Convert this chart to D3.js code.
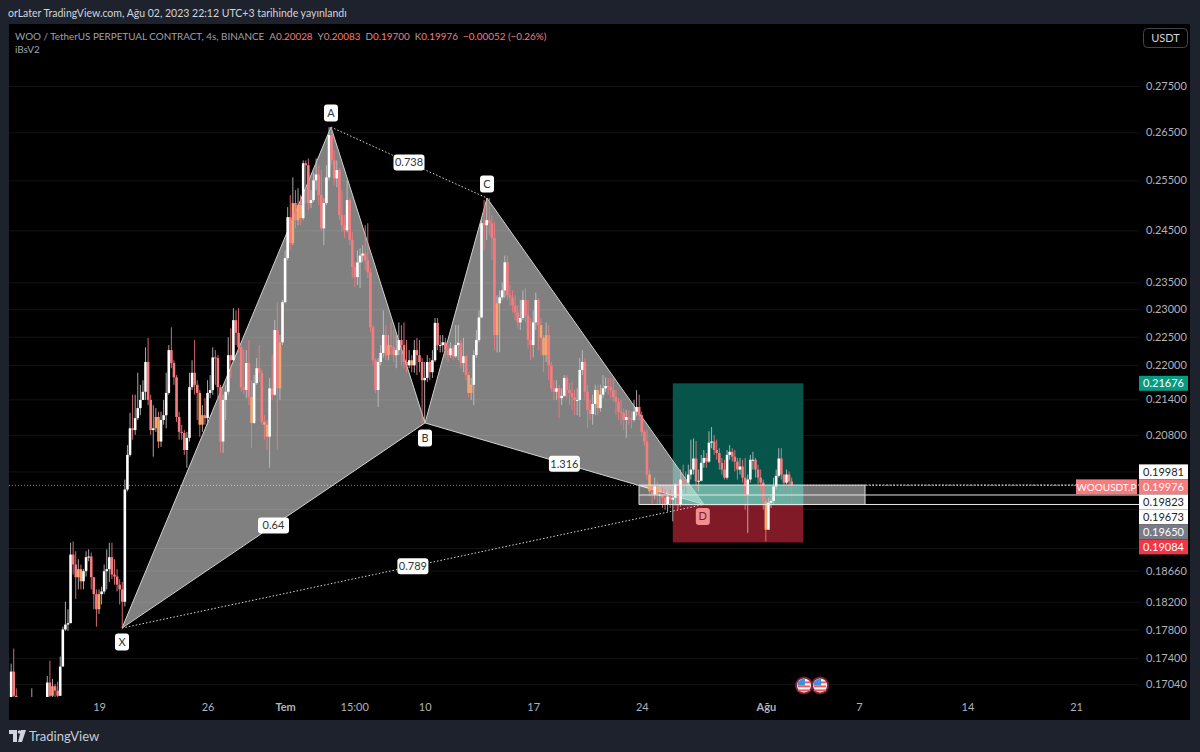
<!DOCTYPE html>
<html>
<head>
<meta charset="utf-8">
<script src="https://cdnjs.cloudflare.com/ajax/libs/d3/7.8.5/d3.min.js"></script>
<style>
html,body{margin:0;padding:0;background:#1e222d;}
svg{display:block;}
text{font-family:Lato,"Noto Sans",sans-serif;}
</style>
</head>
<body>
<svg id="c" width="1200" height="752"></svg>
<script>
// ---------- data ----------
const firstBarOffset = -35;      // first 4h bar, counted from 19 June
const firstOpen = 0.1668;
const closes = [
.1678,.1721,.1688,.1684,.1668,.1668,.1668,.1668,.1668,.1668,
.1668,.1668,.1668,.1668,.1668,.1706,.1688,.1701,.1695,.1688,
.1728,.1780,.1787,.1789,.1890,.1875,.1856,.1868,.1850,.1865,
.1886,.1887,.1856,.1831,.1809,.1831,.1835,.1865,.1868,.1886,
.1860,.1857,.1845,.1838,.1820,.1991,.2047,.2091,.2088,.2108,
.2125,.2139,.2153,.2205,.2139,.2088,.2091,.2110,.2069,.2105,
.2113,.2151,.2226,.2203,.2178,.2110,.2085,.2083,.2055,.2075,
.2161,.2186,.2165,.2151,.2097,.2113,.2108,.2151,.2156,.2213,
.2212,.2161,.2069,.2139,.2153,.2217,.2208,.2280,.2257,.2231,
.2161,.2156,.2203,.2144,.2100,.2168,.2194,.2186,.2102,.2097,
.2077,.2159,.2148,.2262,.2159,.2240,.2313,.2396,.2476,.2425,
.2504,.2470,.2500,.2474,.2585,.2581,.2504,.2510,.2550,.2562,
.2520,.2454,.2504,.2556,.2644,.2591,.2554,.2571,.2480,.2460,
.2450,.2510,.2431,.2379,.2360,.2388,.2401,.2405,.2392,.2369,
.2267,.2208,.2156,.2205,.2221,.2253,.2217,.2235,.2231,.2217,
.2226,.2244,.2235,.2205,.2199,.2208,.2199,.2226,.2217,.2205,
.2173,.2177,.2205,.2187,.2208,.2275,.2235,.2235,.2240,.2226,
.2217,.2229,.2215,.2235,.2239,.2203,.2215,.2182,.2151,.2165,
.2217,.2244,.2285,.2464,.2460,.2470,.2464,.2435,.2253,.2311,
.2322,.2335,.2388,.2326,.2322,.2307,.2294,.2276,.2284,.2317,
.2289,.2244,.2235,.2276,.2317,.2271,.2248,.2217,.2253,.2199,
.2159,.2153,.2159,.2142,.2146,.2177,.2156,.2151,.2144,.2139,
.2139,.2191,.2205,.2153,.2122,.2115,.2132,.2156,.2125,.2148,
.2159,.2163,.2161,.2156,.2144,.2136,.2119,.2117,.2105,.2110,
.2108,.2105,.2119,.2127,.2113,.2085,.2069,.2015,.1988,.1983,
.1996,.1983,.1983,.1978,.1967,.1980,.1975,.1978,.1999,.1967,
.2007,.2004,.2002,.2015,.2023,.2041,.2004,.2005,.2034,.2042,
.2036,.2067,.2069,.2055,.2050,.2034,.2023,.2010,.2047,.2052,
.2044,.2036,.2023,.2028,.2010,.1983,.2007,.2039,.2039,.2023,
.2010,.2002,.1972,.1928,.1970,.1973,.1996,.2013,.2041,.2015,
.2002,.2015,.2004,.19976];
const highs = [
.1740,.1732,.1753,.1698,.1678,.1678,.1678,.1678,.1678,.1698,
.1678,.1678,.1678,.1678,.1678,.1715,.1736,.1711,.1704,.1707,
.1742,.1784,.1820,.1809,.1908,.1910,.1895,.1883,.1875,.1868,
.1895,.1898,.1893,.1853,.1838,.1838,.1842,.1875,.1898,.1908,
.1908,.1883,.1868,.1853,.1849,.2007,.2063,.2117,.2148,.2148,
.2186,.2165,.2173,.2231,.2248,.2148,.2130,.2125,.2119,.2119,
.2139,.2186,.2235,.2267,.2208,.2182,.2119,.2097,.2088,.2085,
.2186,.2208,.2244,.2173,.2156,.2130,.2142,.2173,.2182,.2231,
.2226,.2217,.2165,.2148,.2165,.2249,.2265,.2302,.2298,.2302,
.2235,.2226,.2226,.2244,.2173,.2182,.2212,.2235,.2191,.2113,
.2105,.2177,.2217,.2280,.2313,.2253,.2317,.2411,.2496,.2520,
.2556,.2530,.2534,.2520,.2591,.2591,.2595,.2530,.2566,.2595,
.2581,.2571,.2514,.2581,.2661,.2661,.2612,.2591,.2575,.2530,
.2480,.2550,.2514,.2446,.2388,.2411,.2415,.2421,.2460,.2464,
.2377,.2271,.2212,.2212,.2235,.2298,.2271,.2253,.2276,.2262,
.2253,.2276,.2271,.2276,.2244,.2226,.2217,.2244,.2248,.2244,
.2212,.2205,.2217,.2212,.2226,.2284,.2284,.2253,.2253,.2248,
.2235,.2240,.2235,.2271,.2271,.2244,.2248,.2217,.2187,.2177,
.2226,.2262,.2298,.2474,.2510,.2514,.2514,.2480,.2466,.2326,
.2335,.2350,.2401,.2401,.2345,.2335,.2326,.2307,.2317,.2335,
.2339,.2317,.2284,.2298,.2331,.2321,.2284,.2253,.2276,.2271,
.2205,.2173,.2173,.2165,.2159,.2182,.2182,.2168,.2170,.2156,
.2159,.2212,.2226,.2212,.2165,.2139,.2148,.2165,.2165,.2165,
.2182,.2178,.2177,.2177,.2177,.2156,.2142,.2139,.2125,.2122,
.2122,.2119,.2139,.2156,.2148,.2119,.2088,.2088,.2023,.1999,
.2010,.2004,.1999,.1994,.1991,.1991,.1991,.1994,.2001,.2007,
.2023,.2031,.2020,.2031,.2072,.2074,.2070,.2023,.2047,.2055,
.2050,.2086,.2093,.2080,.2072,.2058,.2042,.2039,.2055,.2063,
.2058,.2055,.2042,.2042,.2039,.2042,.2015,.2047,.2052,.2042,
.2031,.2023,.2007,.1978,.1978,.1983,.2010,.2023,.2058,.2058,
.2015,.2023,.2020,.2010];
const lows = [
.1656,.1678,.1671,.1668,.1650,.1650,.1650,.1650,.1650,.1650,
.1650,.1650,.1650,.1650,.1650,.1678,.1678,.1684,.1684,.1678,
.1688,.1728,.1778,.1778,.1789,.1860,.1824,.1838,.1838,.1838,
.1857,.1880,.1838,.1809,.1784,.1802,.1816,.1831,.1838,.1849,
.1853,.1845,.1835,.1816,.1784,.1813,.1988,.2044,.2072,.2080,
.2105,.2113,.2139,.2139,.2130,.2080,.2044,.2085,.2058,.2060,
.2097,.2091,.2148,.2194,.2165,.2102,.2072,.2072,.2047,.2026,
.2069,.2156,.2148,.2105,.2077,.2085,.2097,.2097,.2142,.2148,
.2165,.2139,.2050,.2050,.2105,.2148,.2177,.2205,.2235,.2222,
.2153,.2148,.2142,.2130,.2058,.2098,.2165,.2170,.2097,.2072,
.2055,.2026,.2139,.2146,.2055,.2139,.2235,.2311,.2392,.2411,
.2421,.2454,.2460,.2460,.2470,.2504,.2490,.2494,.2506,.2530,
.2500,.2450,.2421,.2500,.2550,.2581,.2540,.2536,.2470,.2446,
.2435,.2446,.2421,.2358,.2341,.2345,.2339,.2388,.2373,.2358,
.2258,.2199,.2151,.2127,.2199,.2213,.2208,.2208,.2217,.2205,
.2194,.2217,.2199,.2194,.2187,.2194,.2187,.2186,.2182,.2187,
.2100,.2100,.2170,.2173,.2177,.2205,.2226,.2222,.2222,.2212,
.2205,.2212,.2208,.2212,.2208,.2194,.2187,.2173,.2144,.2139,
.2130,.2212,.2240,.2284,.2411,.2431,.2440,.2392,.2226,.2222,
.2222,.2317,.2321,.2317,.2307,.2294,.2280,.2265,.2262,.2280,
.2276,.2229,.2208,.2213,.2262,.2226,.2217,.2187,.2205,.2173,
.2153,.2139,.2139,.2108,.2130,.2144,.2142,.2130,.2122,.2113,
.2113,.2110,.2182,.2139,.2091,.2105,.2097,.2113,.2113,.2119,
.2142,.2153,.2148,.2142,.2136,.2113,.2105,.2097,.2088,.2075,
.2097,.2091,.2102,.2111,.2105,.2078,.2062,.2007,.1980,.1967,
.1975,.1967,.1967,.1962,.1959,.1956,.1962,.1941,.1967,.1959,
.1964,.1991,.1985,.1991,.2007,.2015,.1991,.1988,.2004,.2026,
.2026,.2034,.2058,.2047,.2039,.2023,.2015,.2007,.2007,.2039,
.2036,.2020,.2007,.2015,.2002,.1959,.1923,.2002,.2023,.2010,
.1999,.1991,.1959,.1910,.1959,.1962,.1967,.1991,.2010,.2007,
.1991,.1999,.1991,.1970];
// bars the iBsV2 script tints orange (bar number counted from 19 June)
const tintedBars = [-18,-8,-7,0,22,23,39,40,59,64,65,70,75,77,78,112,121,143,144,154,171,172,173,193,213,216,258];

const priceTicks = [0.275,0.265,0.255,0.245,0.235,0.23,0.225,0.22,0.214,0.208,0.202,0.196,0.19,0.1866,0.182,0.178,0.174,0.1704];
const hiddenPriceTicks = [0.202,0.196,0.19];
const timeTickDates = ["2023-06-19T00:00","2023-06-26T00:00","2023-07-01T00:00","2023-07-05T11:00","2023-07-10T00:00","2023-07-17T00:00","2023-07-24T00:00","2023-08-01T00:00","2023-08-07T00:00","2023-08-14T00:00","2023-08-21T00:00"];
const timeTickLabels = ["19","26","Tem","15:00","10","17","24","Ağu","7","14","21"];

const patternNames = ["X","A","B","C","D"];
const patternDates = ["2023-06-20T11:35","2023-07-03T23:00","2023-07-10T00:30","2023-07-14T00:30","2023-07-28T00:00"];
const patternPrices = [0.1782,0.2661,0.2100,0.2514,0.19673];
const ratioLegs = [["A","C","0.738"],["X","B","0.64"],["B","D","1.316"],["X","D","0.789"]];

const positionStart = "2023-07-26T00:00", positionEnd = "2023-08-03T10:00";
const takeProfit = 0.21676, entry = 0.1965, stopLoss = 0.19084;
const zoneStart = "2023-07-23T19:40", zoneEnd = "2023-08-07T09:30";
const zonePrices = [0.19981,0.19823,0.19673];
const lastPrice = 0.19976;
const stackedTags = ["0.19981","0.19976","0.19823","0.19673","0.19650","0.19084"];
const eventDates = ["2023-08-03T11:00","2023-08-04T12:00"];
const eventPrice = 0.1702;

const titleText = "orLater TradingView.com, Ağu 02, 2023 22:12 UTC+3 tarihinde yayınlandı";
const symbolText = "WOO / TetherUS PERPETUAL CONTRACT, 4s, BINANCE";
const ohlcKeys = ["A","Y","D","K"];
const ohlcValues = ["0.20028","0.20083","0.19700","0.19976"];
const changeText = "−0.00052 (−0.26%)";

// ---------- scales ----------
const C = {bg:"#1e222d",up:"#ffffff",down:"#f77c80",tint:"#f7a56f",axis:"#b0b3bc",grid:"#111317"};
const d = s => new Date(s);
const svg = d3.select("#c");
const panel = {x:9,y:24,r:1190,b:720,plotB:697,axisX:1139};
const x = d3.scaleTime().domain([d("2023-06-19T00:00"),d("2023-08-21T00:00")]).range([99,1076]);
const y = d3.scaleLog().domain([0.275,0.1704]).range([86,684]);
const barTime = k => d3.timeHour.offset(d("2023-06-19T00:00"),k*4);

svg.append("rect").attr("width",1200).attr("height",752).attr("fill",C.bg);
svg.append("rect").attr("x",panel.x).attr("y",panel.y).attr("width",panel.r-panel.x).attr("height",panel.b-panel.y).attr("fill","#000");
svg.append("clipPath").attr("id","plot").append("rect").attr("x",panel.x).attr("y",panel.y).attr("width",panel.axisX-panel.x).attr("height",panel.plotB-panel.y);

// axes with grid
const yGrid = svg.append("g").attr("transform",`translate(${panel.axisX},0)`)
  .call(d3.axisLeft(y).tickValues(priceTicks).tickSize(panel.axisX-panel.x).tickFormat(""));
yGrid.select(".domain").remove();
yGrid.selectAll("line").attr("stroke",C.grid);

const yAxis = svg.append("g").attr("transform",`translate(1146,0)`)
  .call(d3.axisRight(y).tickValues(priceTicks.filter(p=>!hiddenPriceTicks.includes(p))).tickSize(0).tickPadding(0).tickFormat(d3.format(".5f")));
yAxis.select(".domain").remove();
yAxis.selectAll("text").attr("fill",C.axis).style("font-size","11px");

const xAxis = svg.append("g").attr("transform",`translate(0,700)`)
  .call(d3.axisBottom(x).tickValues(timeTickDates.map(d)).tickSize(0).tickPadding(3).tickFormat((t,i)=>timeTickLabels[i]));
xAxis.select(".domain").remove();
xAxis.selectAll("text").attr("fill",C.axis).style("font-size","11px")
  .style("font-weight",(t,i)=>/[A-Za-z]/.test(timeTickLabels[i])?"700":"400");

const plot = svg.append("g").attr("clip-path","url(#plot)");

// last price dotted line
plot.append("line").attr("x1",panel.x).attr("x2",1076).attr("y1",y(lastPrice)).attr("y2",y(lastPrice))
  .attr("stroke",C.down).attr("stroke-dasharray","1 2").attr("opacity",.8);

// position tool
const px0=x(d(positionStart)), px1=x(d(positionEnd));
plot.append("rect").attr("x",px0).attr("width",px1-px0).attr("y",y(takeProfit)).attr("height",y(entry)-y(takeProfit)).attr("fill","#06544a");
plot.append("rect").attr("x",px0).attr("width",px1-px0).attr("y",y(entry)).attr("height",y(stopLoss)-y(entry)).attr("fill","#7f1a26");

// harmonic pattern
const P = {}; patternNames.forEach((n,i)=>P[n]=[x(d(patternDates[i])),y(patternPrices[i])]);
const tri = (a,b,c)=>`M${P[a]}L${P[b]}L${P[c]}Z`;
plot.append("path").attr("d",tri("X","A","B")).attr("fill","#fff").attr("fill-opacity",.5);
plot.append("path").attr("d",tri("B","C","D")).attr("fill","#fff").attr("fill-opacity",.5);
plot.append("path").attr("d",`M${P.X}L${P.A}L${P.B}L${P.C}L${P.D}L${P.B}L${P.X}`).attr("fill","none").attr("stroke","#d0d0d0").attr("stroke-width",1);
ratioLegs.forEach(([a,b])=>{
  if(a==="A"||(a==="X"&&b==="D"))
    plot.append("line").attr("x1",P[a][0]).attr("y1",P[a][1]).attr("x2",P[b][0]).attr("y2",P[b][1]).attr("stroke","#d8d8d8").attr("stroke-dasharray","1.5 2");
});

// zone band, tinted where it crosses the position tool
const z0=x(d(zoneStart)), z1=x(d(zoneEnd));
plot.append("rect").attr("x",z0).attr("width",z1-z0).attr("y",y(zonePrices[0])).attr("height",y(zonePrices[2])-y(zonePrices[0])).attr("fill","#fff").attr("fill-opacity",.46);
plot.append("rect").attr("x",px0).attr("width",px1-px0).attr("y",y(zonePrices[0])).attr("height",y(entry)-y(zonePrices[0])).attr("fill","#4ad2ae").attr("fill-opacity",.3);

// candles
const bars = closes.map((c,i)=>{
  const k=firstBarOffset+i, o=i?closes[i-1]:firstOpen;
  return {k,o,c,h:Math.max(highs[i],o,c),l:Math.min(lows[i],o,c),t:barTime(k)};
});
const color = b => tintedBars.includes(b.k)?C.tint:(b.c>=b.o?C.up:C.down);
plot.append("g").selectAll("line").data(bars).join("line")
  .attr("x1",b=>x(b.t)).attr("x2",b=>x(b.t)).attr("y1",b=>y(b.h)).attr("y2",b=>y(b.l))
  .attr("stroke",b=>b.c>=b.o?"#c4c4c4":C.down).attr("stroke-width",1).attr("opacity",.85);
plot.append("g").selectAll("rect").data(bars).join("rect")
  .attr("x",b=>x(b.t)-1.3).attr("width",2.6)
  .attr("y",b=>y(Math.max(b.o,b.c))).attr("height",b=>Math.max(1,y(Math.min(b.o,b.c))-y(Math.max(b.o,b.c))))
  .attr("fill",color);

// zone lines (over the candles); the top one turns dotted past the band
zonePrices.forEach((p,i)=>{
  plot.append("line").attr("x1",z0).attr("x2",i?panel.axisX:z1).attr("y1",y(p)).attr("y2",y(p)).attr("stroke","#e8e8e8").attr("stroke-width",1);
});
plot.append("line").attr("x1",z1).attr("x2",panel.axisX).attr("y1",y(zonePrices[0])).attr("y2",y(zonePrices[0])).attr("stroke","#f0f0f0").attr("stroke-dasharray","2 1.5");
plot.append("line").attr("x1",z0).attr("x2",z0).attr("y1",y(zonePrices[0])).attr("y2",y(zonePrices[2])).attr("stroke","#d8d8d8");
plot.append("line").attr("x1",z1).attr("x2",z1).attr("y1",y(zonePrices[0])).attr("y2",y(zonePrices[2])).attr("stroke","#d8d8d8");

// pattern labels
const box=(cx,cy,w,h,txt,fill,ink)=>{
  svg.append("rect").attr("x",cx-w/2).attr("y",cy-h/2).attr("width",w).attr("height",h).attr("rx",3).attr("fill",fill);
  svg.append("text").attr("x",cx).attr("y",cy+3.8).attr("text-anchor","middle").attr("fill",ink).style("font-size","11px").text(txt);
};
const pointOffset={X:14,A:-14,B:15,C:-14,D:12};
patternNames.forEach(n=>{
  const isD=n==="D";
  box(P[n][0]-(isD?1:0),P[n][1]+pointOffset[n],14,17,n,isD?"#f28e90":"#fff",isD?"#7f1a26":"#333");
});
ratioLegs.forEach(([a,b,t])=>box((P[a][0]+P[b][0])/2,(P[a][1]+P[b][1])/2,31,16,t,"#fff","#333"));

// economic events
eventDates.forEach(s=>{
  const g=svg.append("g").attr("transform",`translate(${x(d(s))},${y(eventPrice)})`);
  g.append("circle").attr("r",9).attr("fill","#7d1f33");
  g.append("circle").attr("r",7).attr("fill","#f4f4f4");
  [-3,1,5].forEach(v=>g.append("rect").attr("x",-6).attr("y",v-1).attr("width",12).attr("height",1.8).attr("fill","#ea5b5f"));
  g.append("path").attr("d","M-6.6,0 A6.8,6.8 0 0 1 0,-6.8 L1,-6.8 L1,0Z").attr("fill","#3f8fe0");
});

// price tags
const tag=(cy,t,fill,ink,x0=panel.axisX,w=49,size=11)=>{
  svg.append("rect").attr("x",x0).attr("y",cy-7.5).attr("width",w).attr("height",15).attr("fill",fill);
  svg.append("text").attr("x",x0+w/2).attr("y",cy+4).attr("text-anchor","middle").attr("fill",ink).style("font-size",size+"px").text(t);
};
tag(y(takeProfit),"0.21676","#089981","#fff");
const tagStyle=[["#fff","#222"],[C.down,"#fff"],["#fff","#222"],["#fff","#222"],["#787b86","#fff"],["#f23645","#fff"]];
const base=y(lastPrice)+1.5;
stackedTags.forEach((t,i)=>tag(base+(i-1)*15,t,tagStyle[i][0],tagStyle[i][1]));
tag(base,"WOOUSDT.P",C.down,"#fff",1076,61,10);

// header texts
svg.append("text").attr("x",8).attr("y",17).attr("fill","#d1d4dc").style("font-size","10.5px").text(titleText);
const lg=svg.append("text").attr("x",15).attr("y",40).attr("fill","#9ea2ac").style("font-size","9.9px");
lg.append("tspan").text(symbolText);
ohlcKeys.forEach((k,i)=>{
  lg.append("tspan").attr("dx",i?5:5).text(k);
  lg.append("tspan").attr("fill",C.down).text(ohlcValues[i]);
});
lg.append("tspan").attr("dx",5).attr("fill",C.down).text(changeText);
svg.append("text").attr("x",15).attr("y",53).attr("fill","#9ea2ac").style("font-size","10px").text("iBsV2");

// currency button
svg.append("rect").attr("x",1143.5).attr("y",28.5).attr("width",44).attr("height",19).attr("rx",4).attr("fill","#000").attr("stroke","#434651");
svg.append("text").attr("x",1165.5).attr("y",42).attr("text-anchor","middle").attr("fill","#d1d4dc").style("font-size","11px").text("USDT");

// footer logo
svg.append("path").attr("d","M9,730H17V742H13V734H9Z M18,742L21,730H26L22,742Z").attr("fill","#d1d4dc");
svg.append("circle").attr("cx",19.5).attr("cy",732).attr("r",1.8).attr("fill","#d1d4dc");
svg.append("text").attr("x",29).attr("y",741).attr("fill","#c8cbd3").style("font-size","13px").text("TradingView");
</script>
</body>
</html>
